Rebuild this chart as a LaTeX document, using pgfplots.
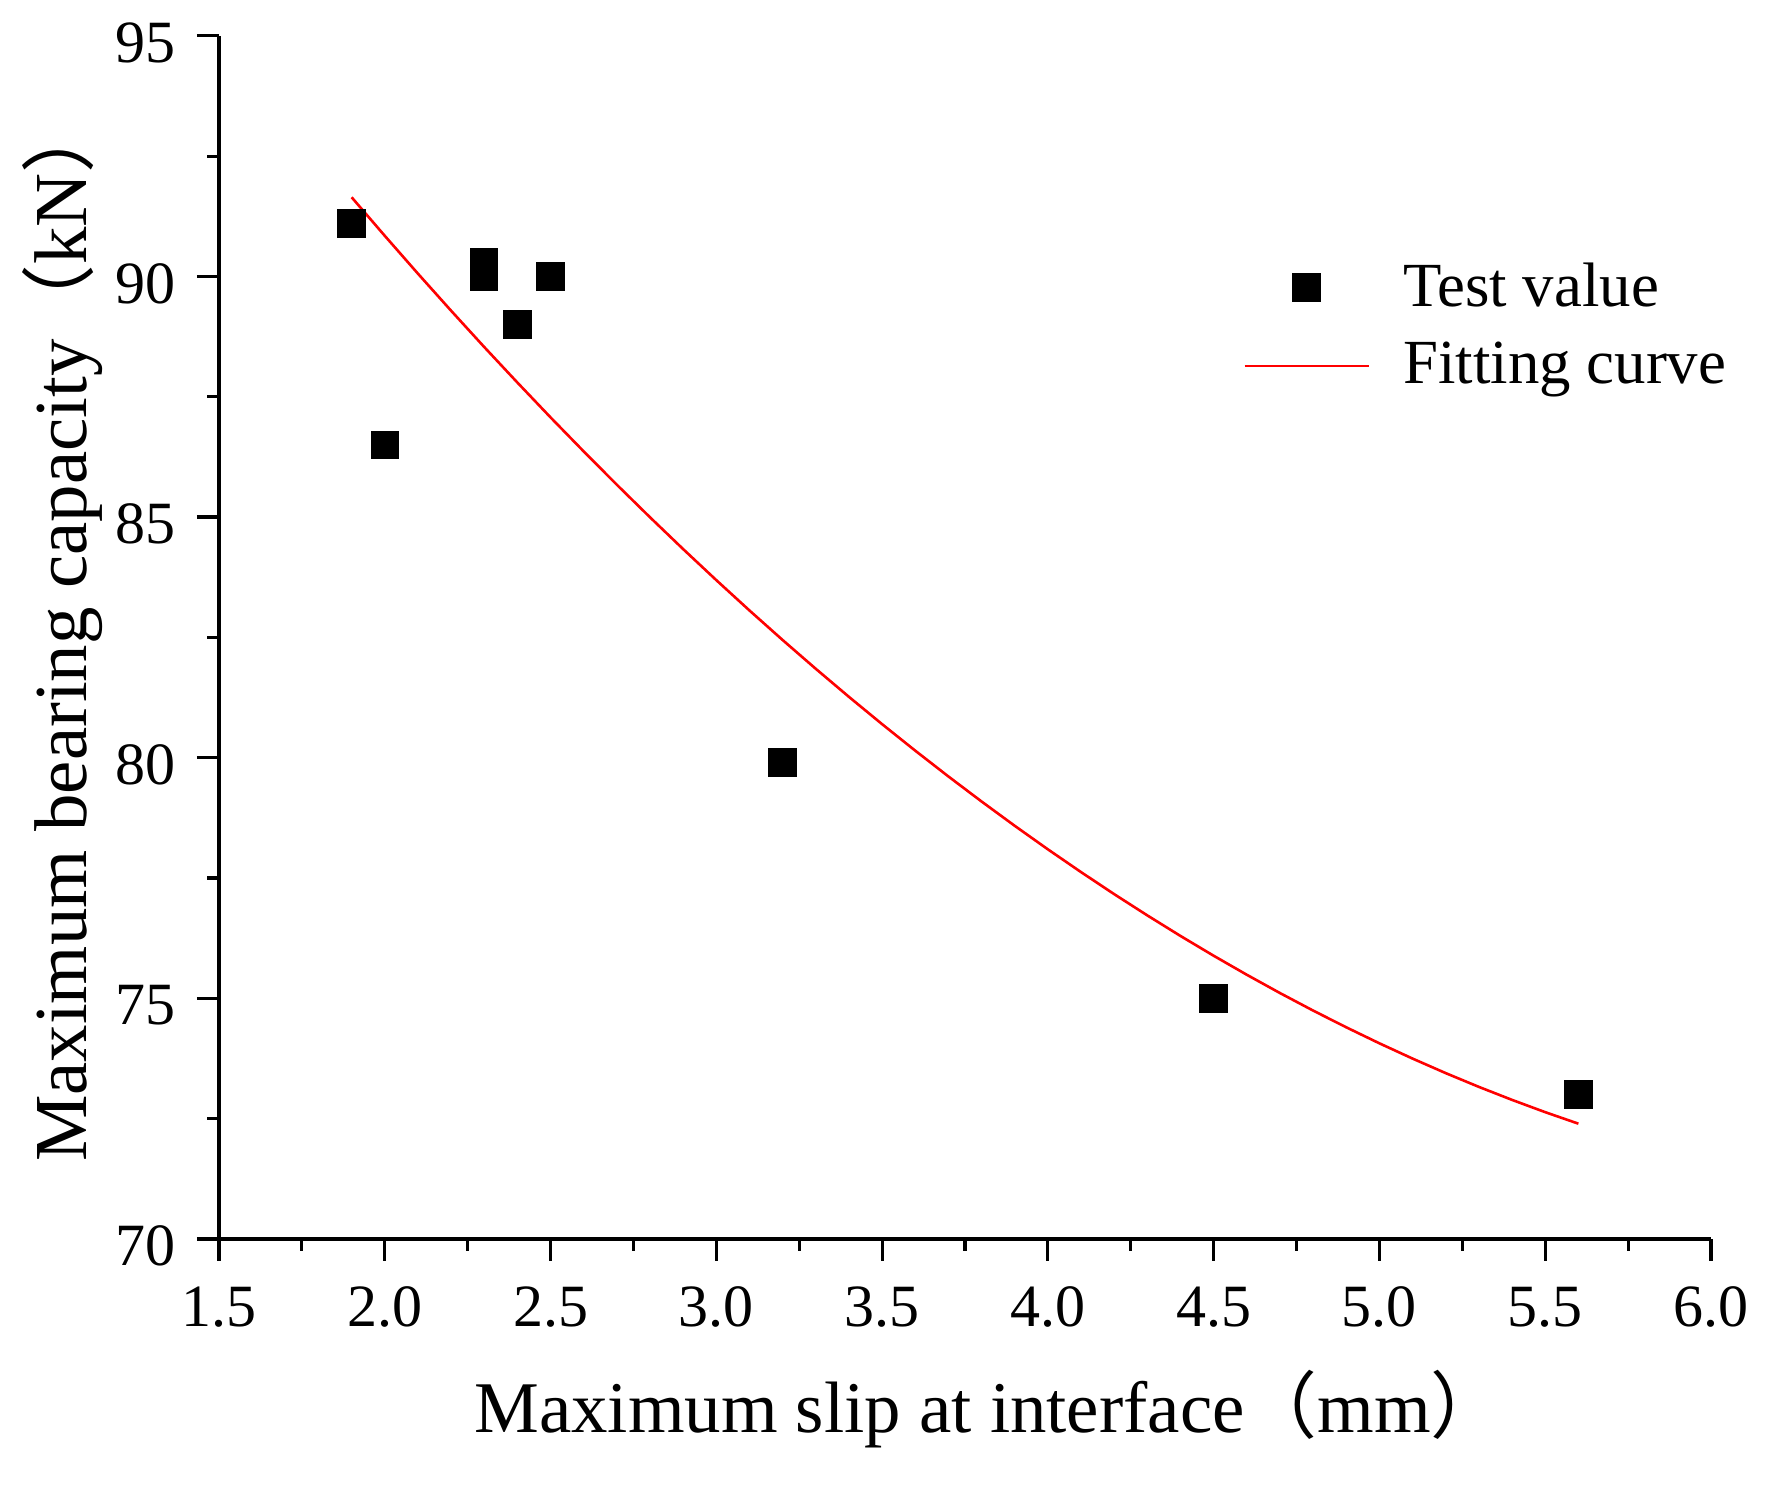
\documentclass[border=0pt]{standalone}
\usepackage{fontspec}
\setmainfont{Liberation Serif}
\newfontfamily\cjk{Noto Sans CJK SC}
\usepackage{pgfplots}
\pgfplotsset{compat=1.18}
\pgfplotsset{
    legmark/.style={legend image code/.code={\path (0pt,0pt) (31pt,0pt);
        \draw[##1] plot coordinates {(15.5pt,0pt)};}},
    legline/.style={legend image code/.code={\draw[##1] (0pt,0pt) -- (31pt,0pt);}},
}

% test values
\pgfplotstableread{
x y
1.9 91.1
2.0 86.5
2.3 90.0
2.3 90.3
2.4 89.0
2.5 90.0
3.2 79.9
4.5 75.0
5.6 73.0
}\testdata

\begin{document}
\begin{tikzpicture}
\useasboundingbox (-54.75pt,-61.75pt) rectangle (389.75pt,309.75pt);
\begin{axis}[
    at={(0,0)}, anchor=south west,
    width=373pt, height=300.8pt, scale only axis,
    axis lines=left,
    axis line style={-, line width=0.8pt},
    xmin=1.5, xmax=6.0, ymin=70, ymax=95,
    xtick={1.5,2.0,2.5,3.0,3.5,4.0,4.5,5.0,5.5,6.0},
    ytick={70,75,80,85,90,95},
    minor x tick num=1, minor y tick num=1,
    tick align=outside,
    major tick length=5.5pt, minor tick length=2.9pt,
    every tick/.style={black, line width=0.8pt},
    /pgf/number format/assume math mode=true,
    tick label style={font=\fontsize{15}{18}\selectfont},
    xticklabel style={anchor=center, yshift=-11.5pt,
        /pgf/number format/.cd, fixed, fixed zerofill, precision=1},
    yticklabel style={anchor=east, inner sep=0pt, xshift=-5.25pt, yshift=-1.75pt},
    xlabel={Maximum slip at interface{\cjk （}mm{\cjk ）}},
    ylabel={Maximum bearing capacity{\cjk （}kN{\cjk ）}},
    xlabel style={font=\fontsize{18.2}{21}\selectfont,
        at={(axis description cs:0.516,0)}, anchor=base, yshift=-48.5pt},
    ylabel style={font=\fontsize{18.7}{21}\selectfont,
        at={(axis description cs:-0.105,0.506)}, anchor=center},
    legend style={draw=none, fill=none, at={(axis description cs:0.686,0.812)},
        anchor=north west, font=\fontsize{15.7}{18}\selectfont,
        row sep=7.5pt, inner sep=0pt, nodes={inner sep=0pt},
        /tikz/every odd column/.style={column sep=8.4pt}},
    legend cell align=left,
]
\addplot[only marks, mark=square*, mark size=3.35pt, black, legmark]
    table[x=x, y=y] {\testdata};
\addlegendentry{Test value}
\addplot[red, line width=0.65pt, no marks, legline]
    coordinates {
    (1.9,91.645) (2.0,90.844) (2.1,90.058) (2.2,89.288) (2.3,88.533)
    (2.4,87.795) (2.5,87.071) (2.6,86.364) (2.7,85.671) (2.8,84.995)
    (2.9,84.334) (3.0,83.689) (3.1,83.059) (3.2,82.445) (3.3,81.847)
    (3.4,81.264) (3.5,80.697) (3.6,80.146) (3.7,79.610) (3.8,79.090)
    (3.9,78.585) (4.0,78.096) (4.1,77.623) (4.2,77.165) (4.3,76.723)
    (4.4,76.296) (4.5,75.885) (4.6,75.490) (4.7,75.110) (4.8,74.746)
    (4.9,74.398) (5.0,74.065) (5.1,73.748) (5.2,73.446) (5.3,73.160)
    (5.4,72.890) (5.5,72.635) (5.6,72.396)
    };
\addlegendentry{Fitting curve}
\end{axis}
\end{tikzpicture}
\end{document}
